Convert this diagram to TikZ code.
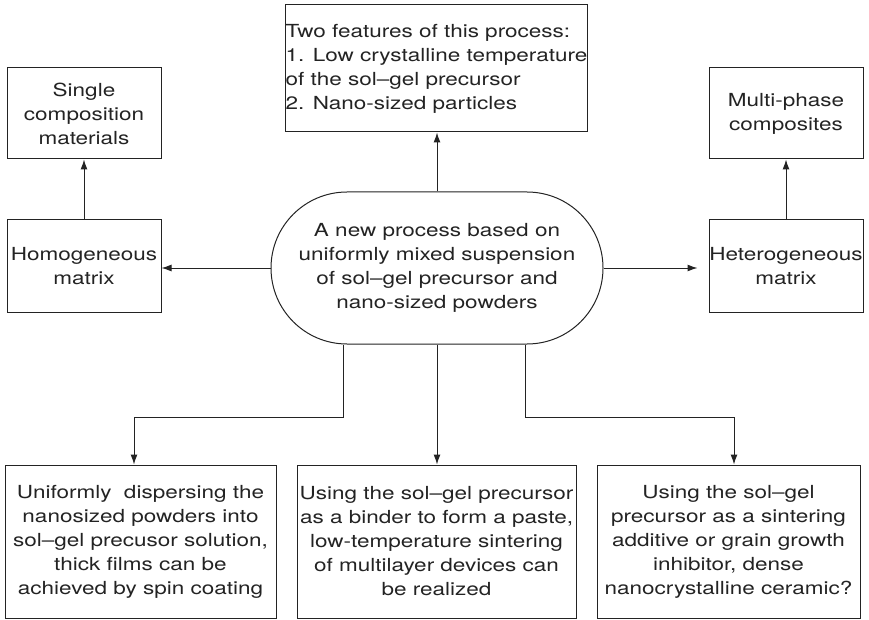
\documentclass[tikz,border=0pt]{standalone}
\usepackage{fontspec}
\setmainfont{TeX Gyre Heros}[FakeStretch=1.25]
\usepackage{tikz}
\usetikzlibrary{arrows.meta,shapes.misc}
\definecolor{InkGray}{RGB}{35,35,35}

\begin{document}
\begin{tikzpicture}[x=1pt,y=-1pt,>={Latex[length=10pt,width=7pt]},
    box/.style={draw=InkGray,line width=1pt,inner sep=0pt,align=center,
      text=InkGray,font=\fontsize{18}{24}\selectfont},
    link/.style={->,draw=InkGray,line width=1pt}]
  \useasboundingbox (0,0) rectangle (869,620);

  % central process
  \node[box,rounded rectangle,minimum width=332pt,minimum height=152pt] (proc) at (437,268)
    {A new process based on\\uniformly mixed suspension\\of sol--gel precursor and\\nano-sized powders};

  % top and side boxes
  \node[box,align=left,minimum width=301pt,minimum height=127pt] (features) at (436.5,68.5)
    {Two features of this process:\\1. Low crystalline temperature\\of the sol--gel precursor\\2. Nano-sized particles};
  \node[box,minimum width=154pt,minimum height=91pt] (single) at (84,113.5)
    {Single\\composition\\materials};
  \node[box,minimum width=154pt,minimum height=92pt] (homog) at (84,266)
    {Homogeneous\\matrix};
  \node[box,minimum width=154pt,minimum height=91pt] (multi) at (786,113.5)
    {Multi-phase\\composites};
  \node[box,minimum width=154pt,minimum height=92pt] (hetero) at (786,266)
    {Heterogeneous\\matrix};

  % bottom row
  \node[box,minimum width=271pt,minimum height=153pt] (films) at (140.5,541.5)
    {Uniformly\ \ dispersing the\\nanosized powders into\\sol--gel precusor solution,\\thick films can be\\achieved by spin coating};
  \node[box,minimum width=279pt,minimum height=153pt] (paste) at (436.5,541.5)
    {Using the sol--gel precursor\\as a binder to form a paste,\\low-temperature sintering\\of multilayer devices can\\be realized};
  \node[box,minimum width=263pt,minimum height=153pt] (ceramic) at (728.5,541.5)
    {Using the sol--gel\\precursor as a sintering\\additive or grain growth\\inhibitor, dense\\nanocrystalline ceramic?};

  % connectors
  \draw[link] (proc.north) -- (proc.north |- features.south);
  \draw[link] (proc.west) -- (proc.west -| homog.east);
  \draw[link,shorten >=11pt] (proc.east) -- (proc.east -| hetero.west);
  \draw[link] (homog.north) -- (single.south);
  \draw[link] (hetero.north) -- (multi.south);
  \draw[link] ([xshift=-94pt]proc.south) -- ++(0,73) -| ([xshift=-6.5pt]films.north);
  \draw[link] (proc.south) -- (proc.south |- paste.north);
  \draw[link] ([xshift=88pt]proc.south) -- ++(0,73) -| ([xshift=5.5pt]ceramic.north);
\end{tikzpicture}
\end{document}
